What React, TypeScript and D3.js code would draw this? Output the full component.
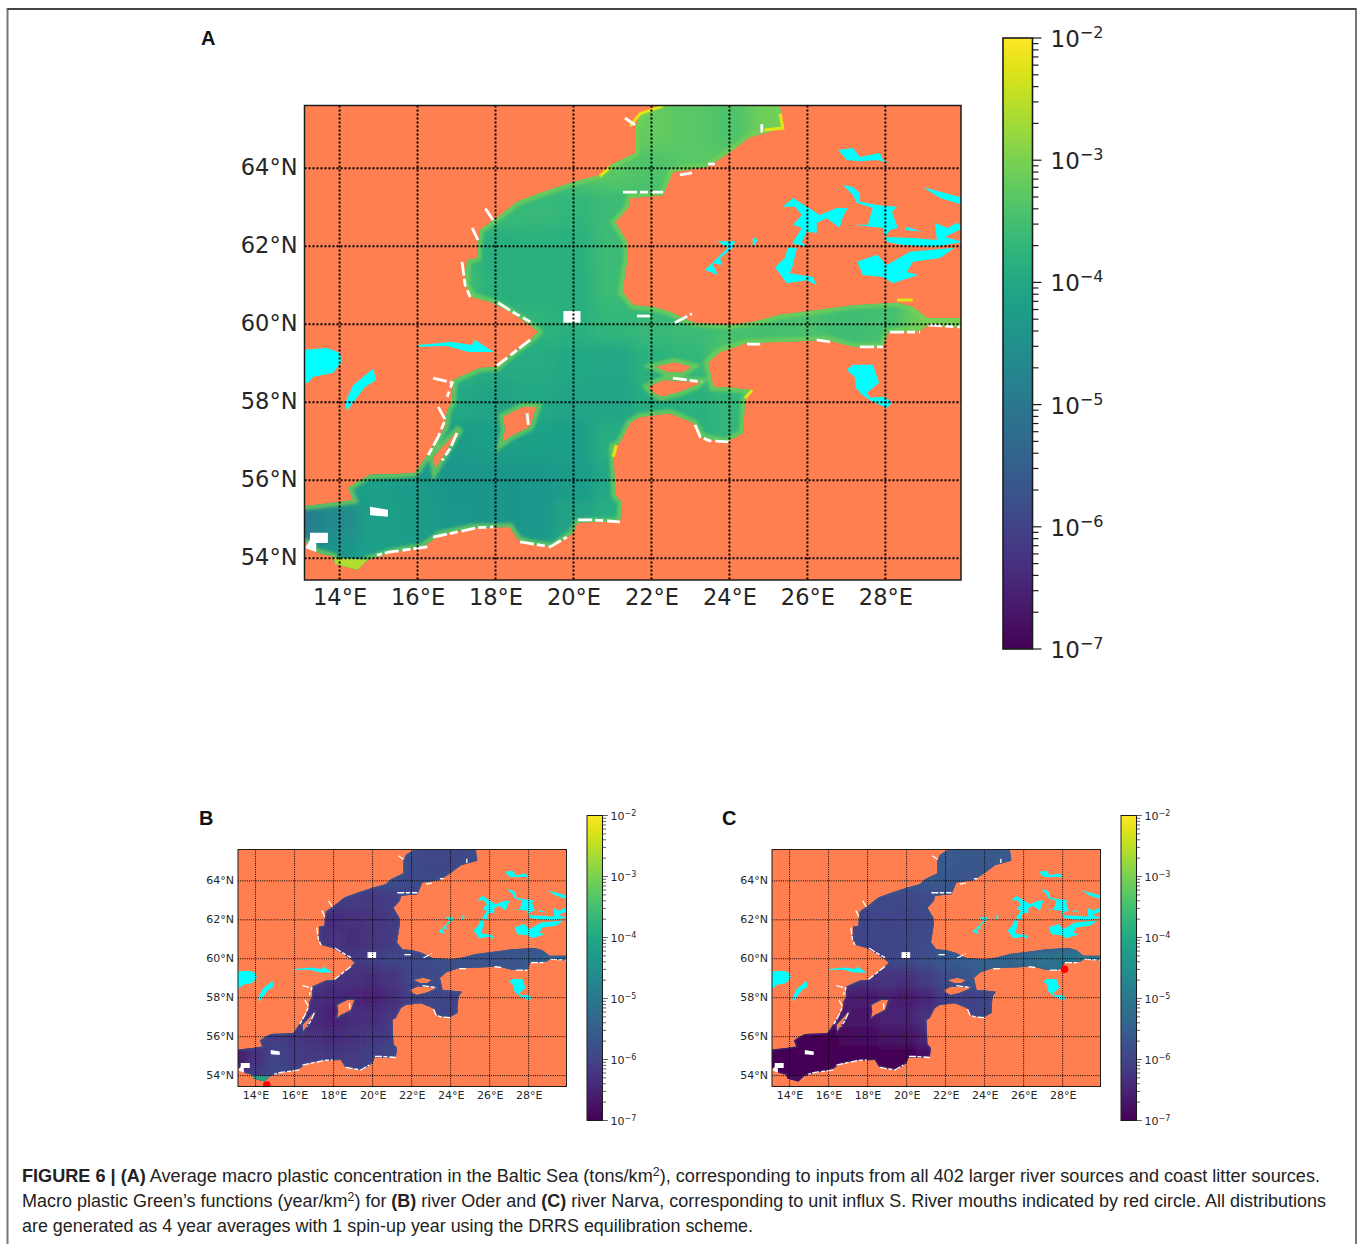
import * as d3 from "d3";
import { useEffect, useRef } from "react";

type Pt = [number, number];

const lonTicks = [14, 16, 18, 20, 22, 24, 26, 28];
const latTicks = [54, 56, 58, 60, 62, 64];
const cbarDomain = [1e-7, 1e-2];

// coast of the sea, lon/lat
const seaOutline: Pt[] = [
  [22.3, 65.7], [21.71, 65.34], [21.58, 65.03], [21.58, 64.39], [20.94, 64.08], [20.68, 63.83], [19.99, 63.65],
  [19.22, 63.39], [18.55, 63.14], [18.04, 62.73], [17.6, 62.42], [17.55, 62.03], [17.53, 61.7], [17.27, 61.65],
  [17.22, 61.01], [17.4, 60.7], [17.94, 60.55], [18.37, 60.32], [18.89, 59.98], [19.09, 59.8], [18.89, 59.6],
  [18.45, 59.26], [18.04, 58.91], [17.6, 58.88], [16.91, 58.57], [16.89, 58.01], [16.76, 57.8], [16.71, 57.37],
  [16.5, 57.03], [16.12, 56.44], [15.94, 56.19], [15.48, 56.16], [14.78, 56.14], [14.45, 55.96], [14.22, 55.8],
  [14.35, 55.49], [13.83, 55.42], [13.12, 55.34], [12.9, 55.34], [12.9, 54.42], [13.17, 54.39], [13.43, 54.14],
  [13.83, 54.04], [13.89, 53.85], [14.45, 53.7], [14.73, 53.96], [15.3, 54.14], [16.14, 54.29], [16.58, 54.6],
  [17.43, 54.78], [18.37, 54.8], [18.58, 54.47], [18.89, 54.37], [19.48, 54.29], [19.99, 54.65], [20.1, 54.91],
  [20.43, 54.93], [21.19, 54.93], [21.25, 55.42], [21.07, 55.62], [21.02, 56.85], [21.19, 56.96], [21.45, 57.47],
  [21.71, 57.62], [22.47, 57.72], [23.07, 57.47], [23.32, 57.08], [23.93, 56.98], [24.35, 57.21], [24.4, 58.06],
  [24.58, 58.31], [24.02, 58.37], [23.59, 58.39], [23.45, 59.01], [23.76, 59.29], [24.45, 59.52], [25.47, 59.55],
  [26.5, 59.6], [27.17, 59.42], [27.94, 59.42], [28.07, 59.78], [28.89, 59.83], [29.1, 59.98], [30.1, 59.9],
  [30.1, 60.16], [29.07, 60.16], [28.71, 60.44], [28.3, 60.55], [27.17, 60.49], [26.32, 60.37], [25.3, 60.24],
  [24.61, 60.06], [24.02, 59.98], [23.07, 60.04], [22.47, 60.32], [22.04, 60.44], [21.53, 60.49], [21.25, 60.83],
  [21.4, 61.78], [21.37, 62.11], [21.07, 62.62], [21.4, 62.98], [21.45, 63.24], [22.3, 63.31], [22.55, 63.91],
  [23.43, 64.03], [24.02, 64.42], [24.53, 64.8], [25.37, 65.03], [25.3, 65.55], [25.2, 65.7],
];

const islands: Pt[][] = [
  [[18.19, 57.63], [18.7, 57.88], [19.06, 57.88], [18.89, 57.37], [18.37, 57.11], [18.17, 56.96], [18.24, 57.29]],
  [[17.09, 57.34], [16.91, 57.03], [16.45, 56.26], [16.4, 56.6]],
  [[22.09, 58.91], [22.6, 59.03], [23.04, 58.91], [22.81, 58.76], [22.43, 58.76]],
  [[21.91, 58.39], [22.3, 58.57], [23.24, 58.52], [23.17, 58.44], [22.73, 58.26], [22.27, 58.14], [22.04, 58.24]],
];

const lakes: Pt[][] = [
  [[13.0, 59.34], [13.68, 59.39], [14.01, 59.27], [14.06, 59.03], [13.83, 58.75], [13.32, 58.65], [13.19, 58.49], [13.0, 58.5]],
  [[14.86, 58.86], [14.94, 58.57], [14.65, 58.39], [14.19, 57.78], [14.14, 57.98], [14.35, 58.44]],
  [[16.01, 59.47], [16.58, 59.52], [16.83, 59.55], [17.4, 59.47], [17.47, 59.6], [17.96, 59.29], [17.3, 59.29], [16.76, 59.44], [16.01, 59.42]],
  [[27.01, 58.83], [27.17, 58.96], [27.68, 58.96], [27.84, 58.5], [27.53, 58.24], [27.61, 58.12], [27.99, 58.14], [28.17, 57.98], [28.04, 57.85], [27.68, 58.01], [27.4, 58.19], [27.23, 58.39], [27.23, 58.62]],
  [[26.79, 64.47], [27.17, 64.52], [27.35, 64.29], [27.86, 64.39], [27.94, 64.21], [28.12, 64.13], [27.79, 64.21], [27.35, 64.18], [27.01, 64.21]],
  [[28.96, 63.52], [30.0, 63.24], [30.0, 63.06], [29.4, 63.24]],
  [[27.27, 61.6], [27.79, 61.78], [28.04, 61.52], [28.63, 61.86], [29.78, 61.96], [29.4, 61.7], [28.71, 61.6], [28.55, 61.34], [28.84, 61.26], [28.19, 61.05], [27.94, 61.21], [27.42, 61.26], [27.35, 61.44]],
  [[27.99, 62.24], [28.71, 62.21], [29.32, 62.16], [29.27, 62.6], [29.6, 62.47], [29.83, 62.6], [30, 62.47], [29.53, 62.24], [30, 62.11], [29.22, 61.98], [28.45, 62.03], [28.04, 62.11]],
  [[26.91, 63.57], [27.17, 63.52], [27.35, 63.36], [27.35, 63.14], [27.79, 63.06], [28.3, 63.01], [28.17, 62.88], [28.32, 62.47], [28.12, 62.42], [27.99, 62.24], [27.94, 62.47], [27.17, 62.55], [27.55, 62.55], [27.68, 62.98], [27.27, 63.11], [27.17, 63.31]],
  [[25.37, 63.01], [25.63, 63.24], [25.99, 63.01], [26.32, 62.8], [26.75, 62.98], [27.04, 62.98], [26.91, 62.75], [26.83, 62.47], [26.5, 62.72], [26.24, 62.6], [26.24, 62.34], [25.99, 62.37], [25.86, 62.11], [25.99, 61.98], [25.61, 62.08], [25.86, 62.47], [25.63, 62.55], [25.86, 62.8], [25.68, 63.01]],
  [[25.5, 61.96], [25.73, 61.96], [25.63, 61.52], [25.55, 61.31], [26.14, 61.21], [26.24, 61.0], [25.99, 61.13], [25.47, 61.05], [25.17, 61.46], [25.42, 61.7]],
  [[23.69, 62.13], [24.14, 62.13], [24.09, 61.96], [23.76, 61.7], [23.81, 61.52], [23.55, 61.57], [23.71, 61.26], [23.37, 61.39], [23.69, 61.7], [23.96, 61.96]],
  [[24.6, 62.24], [24.73, 62.16], [24.6, 61.98]],
  [[28.55, 62.5], [28.94, 62.37], [28.5, 62.42]],
];

// no-data cells along the coast
const whiteStrips: Pt[][] = [
  [[17.74, 62.97], [17.99, 62.59]], [[17.4, 62.47], [17.55, 62.16]], [[17.14, 61.6], [17.22, 61.01], [17.35, 60.7]],
  [[18.07, 60.55], [18.43, 60.32], [18.89, 60.06]], [[18.89, 59.6], [18.45, 59.26], [18.04, 58.94]],
  [[16.4, 58.62], [16.89, 58.5], [16.76, 58.14]], [[16.53, 57.88], [16.71, 57.55], [16.53, 57.11], [16.25, 56.6]],
  [[16.25, 54.29], [15.3, 54.16], [14.96, 54.08]], [[16.4, 54.54], [17.53, 54.78], [17.94, 54.8]],
  [[18.63, 54.42], [19.4, 54.29], [19.83, 54.54]], [[20.12, 54.98], [20.5, 54.98], [21.19, 54.93]],
  [[21.27, 63.39], [22.3, 63.39]], [[22.73, 63.83], [23.04, 63.88]], [[23.45, 64.11], [23.63, 64.11]],
  [[24.83, 65.13], [24.83, 64.92]], [[21.63, 60.21], [21.96, 60.21]], [[22.6, 60.04], [23.04, 60.27]],
  [[24.45, 59.49], [24.79, 59.49]], [[26.24, 59.6], [26.58, 59.55]], [[27.35, 59.42], [27.94, 59.42]],
  [[28.12, 59.8], [28.89, 59.8]], [[29.1, 59.98], [29.91, 59.93]], [[23.12, 57.42], [23.25, 57.11], [23.5, 57.01], [24.02, 56.98]],
  [[22.55, 58.62], [23.3, 58.52]], [[18.81, 57.72], [18.84, 57.42]], [[17.01, 57.21], [16.84, 56.82], [16.63, 56.51]],
  [[21.32, 65.29], [21.58, 65.11]],
];
const whitePatches: Pt[][] = [
  [[19.74, 60.34], [20.18, 60.34], [20.18, 60.04], [19.74, 60.04]],
  [[14.78, 55.32], [15.24, 55.24], [15.24, 55.06], [14.78, 55.1]],
  [[13.24, 54.65], [13.7, 54.65], [13.7, 54.39], [13.4, 54.39], [13.4, 54.16], [13.12, 54.26], [13.24, 54.47]],
];
const yellowEdges: Pt[][] = [
  [[21.45, 65.08], [21.71, 65.4], [22.3, 65.6]], [[25.3, 65.4], [25.37, 65.03], [24.9, 64.98]], [[28.3, 60.62], [28.7, 60.62]],
  [[24.4, 58.1], [24.58, 58.31]], [[20.94, 64.03], [20.68, 63.8]], [[21.1, 56.9], [21.02, 56.6]],
];
const lagoon: Pt[] = [[13.85, 54.02], [14.73, 53.96], [14.45, 53.68], [13.89, 53.83]];

const gridLons = d3.range(13, 30);
const gridLats = d3.range(65, 53, -1);

// log10 of the concentration, one row per degree of latitude, north to south
const fieldA = [
  [-3.6, -3.6, -3.6, -3.6, -3.6, -3.6, -3.4, -3.3, -3.1, -3.2, -3.3, -3.4, -3.1, -3, -3, -3, -3],
  [-3.6, -3.6, -3.6, -3.6, -3.6, -3.6, -3.4, -3.4, -3.3, -3.4, -3.3, -3.3, -3.2, -3, -3, -3, -3],
  [-3.7, -3.7, -3.7, -3.7, -3.6, -3.6, -3.65, -3.7, -3.6, -3.5, -3.4, -3.4, -3.4, -3.4, -3.4, -3.4, -3.4],
  [-3.8, -3.8, -3.8, -3.8, -3.7, -3.85, -3.8, -3.8, -3.6, -3.6, -3.6, -3.6, -3.6, -3.6, -3.6, -3.6, -3.6],
  [-3.8, -3.8, -3.8, -3.8, -3.5, -3.8, -3.85, -3.85, -3.6, -3.6, -3.6, -3.6, -3.6, -3.6, -3.6, -3.6, -3.6],
  [-3.8, -3.8, -3.8, -3.8, -3.8, -3.8, -3.75, -3.8, -3.7, -3.65, -3.6, -3.5, -3.5, -3.45, -3.55, -3.5, -3.1],
  [-3.9, -3.9, -3.9, -3.9, -3.8, -3.95, -3.95, -4, -4.05, -3.8, -3.7, -3.4, -3.5, -3.55, -3.6, -3.5, -3.2],
  [-4, -4, -4, -4, -4, -4.1, -4, -4.1, -4.1, -3.9, -3.8, -3.7, -3.5, -3.5, -3.5, -3.5, -3.5],
  [-4.1, -4.1, -4.1, -4, -4.25, -4.2, -4.15, -4.2, -3.9, -3.85, -3.8, -3.7, -3.5, -3.5, -3.5, -3.5, -3.5],
  [-4.3, -4.1, -4.2, -4.3, -4.4, -4.4, -4.35, -4.25, -4, -4, -4, -4, -4, -4, -4, -4, -4],
  [-4.9, -4.6, -4.2, -4.25, -4.35, -4.4, -4.35, -4.1, -3.9, -4, -4, -4, -4, -4, -4, -4, -4],
  [-4.7, -4.4, -4.15, -4.2, -4.25, -4.3, -4.2, -4, -3.9, -4, -4, -4, -4, -4, -4, -4, -4],
];
const fieldB = [
  [-5.85, -5.85, -5.85, -5.85, -5.85, -5.85, -5.85, -5.8, -5.8, -5.85, -5.95, -5.95, -5.9, -5.9, -5.9, -5.9, -5.9],
  [-6, -6, -6, -6, -6, -6, -6.05, -5.95, -5.85, -5.9, -5.9, -5.9, -5.85, -5.85, -5.85, -5.85, -5.85],
  [-6.2, -6.2, -6.2, -6.2, -6.2, -6.2, -6.15, -6.2, -6.1, -6, -6, -6, -6, -6, -6, -6, -6],
  [-6.3, -6.3, -6.3, -6.3, -6.3, -6.35, -6.3, -6.25, -6.15, -6, -6, -6, -6, -6, -6, -6, -6],
  [-6.3, -6.3, -6.3, -6.3, -6.2, -6.25, -6.35, -6.25, -6.15, -6, -6, -6, -6, -6, -6, -6, -6],
  [-6.2, -6.2, -6.2, -6.2, -6.2, -6.2, -6.2, -6.1, -6, -5.95, -5.85, -5.8, -5.75, -5.75, -5.7, -5.6, -5.5],
  [-6.3, -6.3, -6.3, -6.3, -6.2, -6.3, -6.3, -6.35, -6.25, -6, -5.9, -5.8, -5.8, -5.8, -5.7, -5.7, -5.7],
  [-6.4, -6.4, -6.4, -6.4, -6.35, -6.4, -6.45, -6.5, -6.35, -6.05, -6, -6, -6, -6, -6, -6, -6],
  [-6.4, -6.4, -6.4, -6.4, -6.4, -6.5, -6.35, -6.35, -6.2, -6, -6, -6, -6, -6, -6, -6, -6],
  [-6.3, -6.1, -6.1, -6.2, -6.3, -6.35, -6.3, -6.2, -6.1, -6, -6, -6, -6, -6, -6, -6, -6],
  [-6.6, -6.3, -6, -6.1, -6.15, -6.2, -6.15, -6.05, -5.95, -6, -6, -6, -6, -6, -6, -6, -6],
  [-6.4, -6.1, -5.95, -6.05, -6.05, -6.1, -6.05, -5.95, -5.9, -6, -6, -6, -6, -6, -6, -6, -6],
];
const fieldC = [
  [-5.7, -5.7, -5.7, -5.7, -5.7, -5.7, -5.6, -5.55, -5.6, -5.6, -5.65, -5.65, -5.6, -5.6, -5.6, -5.6, -5.6],
  [-5.8, -5.8, -5.8, -5.8, -5.8, -5.8, -5.75, -5.7, -5.65, -5.65, -5.7, -5.7, -5.6, -5.6, -5.6, -5.6, -5.6],
  [-5.9, -5.9, -5.9, -5.9, -5.9, -5.9, -5.9, -5.95, -5.85, -5.8, -5.8, -5.8, -5.8, -5.8, -5.8, -5.8, -5.8],
  [-6, -6, -6, -6, -6, -6, -6, -6, -5.9, -5.8, -5.8, -5.8, -5.8, -5.8, -5.8, -5.8, -5.8],
  [-6, -6, -6, -6, -5.95, -6, -6, -5.95, -5.85, -5.8, -5.8, -5.8, -5.8, -5.8, -5.8, -5.8, -5.8],
  [-6.1, -6.1, -6.1, -6.1, -6.1, -6.1, -6, -5.9, -5.8, -5.65, -5.55, -5.45, -5.4, -5.35, -5.2, -5.1, -5],
  [-6.3, -6.3, -6.3, -6.3, -6.25, -6.3, -6.25, -6.3, -6.1, -5.85, -5.7, -5.5, -5.5, -5.4, -5.3, -5.2, -5.2],
  [-6.6, -6.6, -6.6, -6.6, -6.6, -6.6, -6.5, -6.6, -6.45, -6.1, -6.05, -6, -6, -6, -6, -6, -6],
  [-6.7, -6.7, -6.7, -6.7, -6.7, -6.7, -6.55, -6.5, -6.3, -6.1, -6.05, -6, -6, -6, -6, -6, -6],
  [-7, -7, -7, -6.95, -6.9, -6.8, -6.75, -6.75, -6.5, -6.3, -6.3, -6.3, -6.3, -6.3, -6.3, -6.3, -6.3],
  [-7, -7, -7, -7, -7, -7, -7, -6.95, -6.8, -6.5, -6.5, -6.5, -6.5, -6.5, -6.5, -6.5, -6.5],
  [-7, -7, -7, -7, -7, -7, -7, -7, -6.9, -6.5, -6.5, -6.5, -6.5, -6.5, -6.5, -6.5, -6.5],
];

const riverOder: Pt = [14.58, 53.52];
const riverNarva: Pt = [28.09, 59.46];

const panels = [
  { id: "a", letter: "A", lx: 201, ly: 45, left: 304.5, right: 961, top: 105.5, bottom: 580, cbL: 1003, cbR: 1032.5, cbT: 38, cbB: 649, k: 1, field: fieldA, band: -3.0, bandW: 8, bandO: 0.7, lagoonV: -2.6, river: null as Pt | null },
  { id: "b", letter: "B", lx: 199, ly: 825, left: 238, right: 566.5, top: 849.5, bottom: 1086.5, cbL: 587, cbR: 602.5, cbT: 815.5, cbB: 1120.5, k: 0.5, field: fieldB, band: -5.4, bandW: 3, bandO: 0.4, lagoonV: -4.1, river: riverOder },
  { id: "c", letter: "C", lx: 722, ly: 825, left: 772, right: 1100.5, top: 849.5, bottom: 1086.5, cbL: 1121, cbR: 1136.5, cbT: 815.5, cbB: 1120.5, k: 0.5, field: fieldC, band: -5.5, bandW: 3, bandO: 0.3, lagoonV: -6.8, river: riverNarva },
];

const captionLines = [
  { y: 1182, len: 1298, parts: [["FIGURE 6 | (A)", "b"], [" Average macro plastic concentration in the Baltic Sea (tons/km", ""], ["2", "s"], ["), corresponding to inputs from all 402 larger river sources and coast litter sources.", ""]] },
  { y: 1207, len: 1304, parts: [["Macro plastic Green\u2019s functions (year/km", ""], ["2", "s"], [") for ", ""], ["(B)", "b"], [" river Oder and ", ""], ["(C)", "b"], [" river Narva, corresponding to unit influx S. River mouths indicated by red circle. All distributions", ""]] },
  { y: 1232, len: 731, parts: [["are generated as 4 year averages with 1 spin-up year using the DRRS equilibration scheme.", ""]] },
];

function color(v: number) {
  return d3.interpolateViridis((v + 7) / 5);
}

export default function App() {
  const ref = useRef<SVGSVGElement>(null);

  useEffect(() => {
    const svg = d3.select(ref.current);
    svg.selectAll("*").remove();
    const defs = svg.append("defs");

    const grad = defs.append("linearGradient").attr("id", "viridis").attr("x1", 0).attr("x2", 0).attr("y1", 1).attr("y2", 0);
    d3.range(0, 1.001, 0.05).forEach((t) => {
      grad.append("stop").attr("offset", t).attr("stop-color", d3.interpolateViridis(t));
    });
    const addBlur = (id: string, s: number) =>
      defs.append("filter").attr("id", id).attr("x", "-10%").attr("y", "-10%").attr("width", "120%").attr("height", "120%")
        .append("feGaussianBlur").attr("stdDeviation", s);
    addBlur("soft1", 0.7);
    addBlur("soft2", 0.35);
    addBlur("field1", 8);
    addBlur("field2", 4);
    addBlur("band1", 1.6);
    addBlur("band2", 0.7);

    // outer frame of the figure
    svg.append("path").attr("d", "M7.5,1244V9H1356V1244").attr("fill", "none").attr("stroke", "#777").attr("stroke-width", 2);
    svg.append("path").attr("d", "M7.5,9H1356").attr("fill", "none").attr("stroke", "#444").attr("stroke-width", 2);

    panels.forEach((p) => {
      const x = d3.scaleLinear().domain([13.1, 29.94]).range([p.left, p.right]);
      const y = d3.scaleLinear().domain([53.44, 65.61]).range([p.bottom, p.top]);
      const line = d3.line<Pt>().x((d) => x(d[0])).y((d) => y(d[1]));
      const ring = (pts: Pt[]) => line(pts) + "Z";
      const seaPath = ring(seaOutline) + islands.map(ring).join("");
      const small = p.k < 1;

      defs.append("clipPath").attr("id", "axes-" + p.id).append("rect")
        .attr("x", p.left).attr("y", p.top).attr("width", p.right - p.left).attr("height", p.bottom - p.top);
      defs.append("clipPath").attr("id", "sea-" + p.id).append("path").attr("d", seaPath).attr("clip-rule", "evenodd");

      svg.append("text").attr("x", p.lx).attr("y", p.ly).text(p.letter)
        .attr("font-family", "Liberation Sans").attr("font-weight", 700).attr("font-size", 20).attr("fill", "#111");

      const map = svg.append("g").attr("clip-path", `url(#axes-${p.id})`);
      map.append("rect").attr("x", p.left).attr("y", p.top).attr("width", p.right - p.left).attr("height", p.bottom - p.top).attr("fill", "#ff7f50");

      const soft = map.append("g").attr("filter", `url(#soft${small ? 2 : 1})`);
      const seaG = soft.append("g").attr("clip-path", `url(#sea-${p.id})`);
      seaG.append("rect").attr("x", p.left).attr("y", p.top).attr("width", p.right - p.left).attr("height", p.bottom - p.top).attr("fill", color(p.field[5][5]));
      const cells = seaG.append("g").attr("filter", `url(#field${small ? 2 : 1})`);
      p.field.forEach((row, r) => {
        row.forEach((v, c) => {
          const lon = gridLons[c];
          const lat = gridLats[r];
          const x0 = x(c === 0 ? lon - 2 : lon - 0.5);
          const x1 = x(c === row.length - 1 ? lon + 2 : lon + 0.5);
          const y0 = y(r === 0 ? lat + 2 : lat + 0.5);
          const y1 = y(r === p.field.length - 1 ? lat - 2 : lat - 0.5);
          cells.append("rect").attr("x", x0).attr("y", y0).attr("width", x1 - x0 + 0.5).attr("height", y1 - y0 + 0.5).attr("fill", color(v));
        });
      });
      // lighter band along the coast
      seaG.append("path").attr("d", seaPath).attr("fill", "none").attr("stroke", color(p.band)).attr("stroke-width", p.bandW)
        .attr("stroke-opacity", p.bandO).attr("filter", `url(#band${small ? 2 : 1})`);
      seaG.append("path").attr("d", ring(lagoon)).attr("fill", color(p.lagoonV));

      if (!small) {
        yellowEdges.forEach((e) => {
          soft.append("path").attr("d", line(e)).attr("fill", "none").attr("stroke", "#e3e418").attr("stroke-width", 3);
        });
      }
      whiteStrips.forEach((s) => {
        soft.append("path").attr("d", line(s)).attr("fill", "none").attr("stroke", "#fff").attr("stroke-width", small ? 1.3 : 2.8)
          .attr("stroke-dasharray", small ? "7 1.5 4 2" : "14 3 8 4");
      });
      whitePatches.forEach((s) => {
        soft.append("path").attr("d", ring(s)).attr("fill", "#fff");
      });
      lakes.forEach((l) => {
        soft.append("path").attr("d", ring(l)).attr("fill", "#00ffff");
      });

      // dotted graticule
      const dash = small ? "1 1.2" : "2 2";
      const sw = small ? 1 : 2;
      lonTicks.forEach((d) => {
        map.append("line").attr("x1", x(d)).attr("x2", x(d)).attr("y1", p.top).attr("y2", p.bottom)
          .attr("stroke", "#000").attr("stroke-width", sw).attr("stroke-dasharray", dash);
      });
      latTicks.forEach((d) => {
        map.append("line").attr("y1", y(d)).attr("y2", y(d)).attr("x1", p.left).attr("x2", p.right)
          .attr("stroke", "#000").attr("stroke-width", sw).attr("stroke-dasharray", dash);
      });

      if (p.river) {
        map.append("circle").attr("cx", x(p.river[0])).attr("cy", y(p.river[1])).attr("r", 3.8).attr("fill", "#ff0000");
      }

      svg.append("rect").attr("x", p.left).attr("y", p.top).attr("width", p.right - p.left).attr("height", p.bottom - p.top)
        .attr("fill", "none").attr("stroke", "#1c1c1c").attr("stroke-width", small ? 1 : 1.5);

      // axis labels, no tick marks
      const fs = small ? 11 : 22.5;
      const axB = svg.append("g").attr("transform", `translate(0,${p.bottom})`)
        .call(d3.axisBottom(x).tickValues(lonTicks).tickSize(0).tickPadding(small ? 5 : 9).tickFormat((d) => d + "°E"));
      const axL = svg.append("g").attr("transform", `translate(${p.left},0)`)
        .call(d3.axisLeft(y).tickValues(latTicks).tickSize(0).tickPadding(small ? 4 : 7).tickFormat((d) => d + "°N"));
      [axB, axL].forEach((a) => {
        a.select(".domain").remove();
        a.selectAll("text").attr("font-family", "DejaVu Sans").attr("font-size", fs).attr("fill", "#262626");
      });
      axL.selectAll("text").attr("dy", small ? "0.28em" : "0.29em");

      // colour bar
      svg.append("rect").attr("x", p.cbL).attr("y", p.cbT).attr("width", p.cbR - p.cbL).attr("height", p.cbB - p.cbT)
        .attr("fill", "url(#viridis)").attr("stroke", "#1c1c1c").attr("stroke-width", small ? 1 : 1.6);
      const cy = d3.scaleLog().domain(cbarDomain).range([p.cbB, p.cbT]);
      cy.ticks().forEach((t) => {
        const e = Math.log10(t);
        const major = Math.abs(e - Math.round(e)) < 1e-6;
        svg.append("line").attr("x1", p.cbR).attr("x2", p.cbR + (major ? 9 : 6) * (small ? 0.6 : 1)).attr("y1", cy(t)).attr("y2", cy(t))
          .attr("stroke", "#1c1c1c").attr("stroke-width", small ? 0.7 : 1.2);
        if (major) {
          const lab = svg.append("text").attr("x", p.cbR + (small ? 8 : 18)).attr("y", cy(t) + (small ? 4.5 : 9))
            .attr("font-family", "DejaVu Sans").attr("font-size", small ? 11 : 23).attr("fill", "#262626").text("10");
          lab.append("tspan").attr("dy", small ? -4.5 : -9).attr("font-size", small ? 8 : 16).text("\u2212" + Math.abs(Math.round(e)));
        }
      });
    });

    // caption
    captionLines.forEach((l) => {
      const t = svg.append("text").attr("x", 22).attr("y", l.y).attr("font-family", "Liberation Sans").attr("font-size", 17.5).attr("fill", "#222")
        .attr("textLength", l.len).attr("lengthAdjust", "spacingAndGlyphs");
      let raised = false;
      l.parts.forEach(([str, kind]) => {
        const s = t.append("tspan").text(str);
        if (kind === "b") s.attr("font-weight", 700);
        if (kind === "s") s.attr("font-size", 12).attr("dy", -6);
        else if (raised) s.attr("dy", 6);
        raised = kind === "s";
      });
    });
  }, []);

  return <svg ref={ref} width={1357} height={1244} style={{ position: "absolute", left: 0, top: 0, background: "#fff" }} />;
}
